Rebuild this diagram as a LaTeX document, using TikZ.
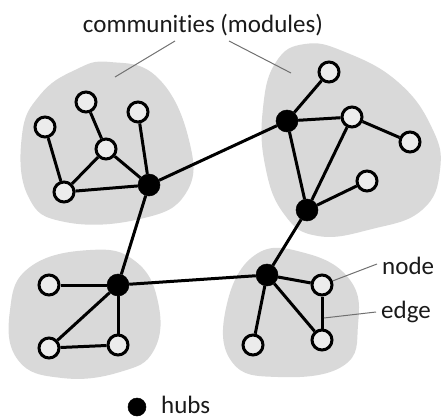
\documentclass[tikz,border=0pt]{standalone}
\usepackage{fontspec}
\setmainfont{Carlito}[Ligatures=NoCommon]
\definecolor{blobgray}{HTML}{D9D9D9}
\definecolor{nodefill}{HTML}{ECECEC}
\definecolor{ptr}{HTML}{707070}
\definecolor{txt}{HTML}{1A1A1A}
\begin{document}
\begin{tikzpicture}[x=1pt,y=-1pt,
  blob/.style={fill=blobgray,draw=none},
  plain/.style={circle,draw=black,fill=nodefill,line width=3pt,minimum size=20pt,inner sep=0pt},
  hub/.style={circle,fill=black,draw=black,line width=0.5pt,minimum size=22pt,inner sep=0pt},
  edge/.style={line width=3pt,black},
  pointer/.style={line width=1pt,ptr},
  lbl/.style={font=\fontsize{25}{30}\selectfont,text=txt,inner sep=0pt}]
\useasboundingbox (0,0) rectangle (442,420);
% community blobs
\fill[blob] plot[smooth cycle,tension=0.75] coordinates {(110,62) (158,78) (189,140) (186,193) (140,219) (65,222) (28,196) (22,135) (40,95) (75,70)};
\fill[blob] plot[smooth cycle,tension=0.75] coordinates {(305,44) (345,52) (398,82) (432,128) (440,170) (422,210) (372,229) (318,236) (284,214) (265,165) (263,108) (276,62)};
\fill[blob] plot[smooth cycle,tension=0.75] coordinates {(90,250) (135,261) (158,302) (154,350) (120,372) (62,378) (18,360) (10,310) (30,267)};
\fill[blob] plot[smooth cycle,tension=0.75] coordinates {(255,255) (305,253) (350,280) (358,325) (343,366) (278,377) (232,362) (226,308)};
% nodes: top-left
\node[plain] (a) at (45,127) {};
\node[plain] (b) at (86,102) {};
\node[plain] (c) at (138,112) {};
\node[plain] (d) at (106,149) {};
\node[plain] (e) at (64,192) {};
\node[hub] (h1) at (149,185) {};
% top-right
\node[hub] (h2) at (287,121) {};
\node[plain] (f) at (329,72) {};
\node[plain] (g) at (352,117) {};
\node[plain] (k) at (410,142) {};
\node[plain] (m) at (367,181) {};
\node[hub] (h3) at (307,210) {};
% bottom-left
\node[hub] (h4) at (118,285) {};
\node[plain] (p) at (49,285) {};
\node[plain] (q) at (49,348) {};
\node[plain] (r) at (118,345) {};
% bottom-right
\node[hub] (h5) at (267,275) {};
\node[plain] (s) at (322,285) {};
\node[plain] (t) at (322,340) {};
\node[plain] (u) at (253,345) {};
% edges
\draw[edge] (a) -- (e);
\draw[edge] (e) -- (d);
\draw[edge] (d) -- (b);
\draw[edge] (d) -- (h1);
\draw[edge] (e) -- (h1);
\draw[edge] (c) -- (h1);
\draw[edge] (h1) -- (h2);
\draw[edge] (h1) -- (h4);
\draw[edge] (h2) -- (f);
\draw[edge] (h2) -- (g);
\draw[edge] (g) -- (k);
\draw[edge] (h2) -- (h3);
\draw[edge] (g) -- (h3);
\draw[edge] (h3) -- (m);
\draw[edge] (h3) -- (h5);
\draw[edge] (h4) -- (p);
\draw[edge] (h4) -- (q);
\draw[edge] (q) -- (r);
\draw[edge] (h4) -- (r);
\draw[edge] (h4) -- (h5);
\draw[edge] (h5) -- (s);
\draw[edge] (s) -- (t);
\draw[edge] (h5) -- (t);
\draw[edge] (h5) -- (u);
% labels
\node[lbl] (comm) at (203,25) {communities (modules)};
\node[lbl,anchor=west] (nodelbl) at (382,266) {node};
\node[lbl,anchor=west] (edgelbl) at (381,312) {edge};
\node[hub,minimum size=18pt] (hubdot) at (137,407) {};
\node[lbl,anchor=west] (hubslbl) at (161,405) {hubs};
% pointers
\coordinate (c1) at (175,41);
\coordinate (c1e) at (115,77);
\coordinate (c2) at (229,41);
\coordinate (c2e) at (291,73);
\coordinate (emid) at (324,318);
\draw[pointer] (c1) -- (c1e);
\draw[pointer] (c2) -- (c2e);
\draw[pointer] (nodelbl.west) ++(-5,-2) -- (s);
\draw[pointer] (edgelbl.west) ++(-5,0) -- (emid);
\end{tikzpicture}
\end{document}
